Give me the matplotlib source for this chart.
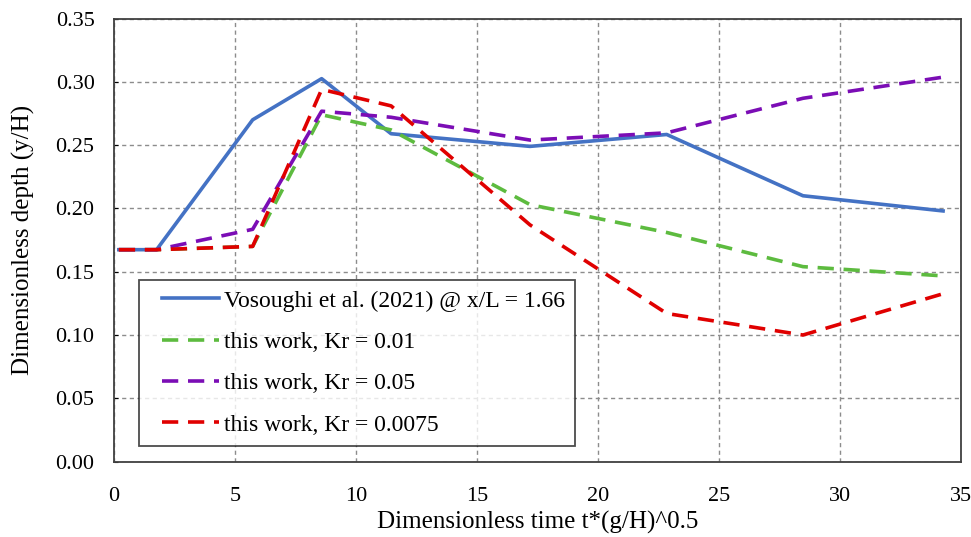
import matplotlib
matplotlib.use("Agg")
import matplotlib.pyplot as plt
from matplotlib.legend_handler import HandlerLine2D

plt.rcParams['font.family'] = ['Liberation Serif', 'DejaVu Serif']

t_blue = [0.2, 1.76, 5.73, 8.58, 11.45, 17.19, 22.84, 28.47, 34.26]
y_blue = [0.1674, 0.1674, 0.270, 0.3025, 0.259, 0.249, 0.2584, 0.210, 0.198]

t_model = [0.2, 1.76, 5.73, 8.58, 11.45, 17.19, 22.84, 28.47, 34.26]
y_green = [0.1674, 0.1674, 0.170, 0.274, 0.262, 0.203, 0.181, 0.154, 0.1467]
y_purple = [0.1674, 0.1674, 0.1835, 0.2768, 0.272, 0.254, 0.2597, 0.287, 0.3037]
y_red = [0.1674, 0.1674, 0.170, 0.294, 0.281, 0.187, 0.117, 0.100, 0.1326]

labels = ["Vosoughi et al. (2021) @ x/L = 1.66",
          "this work, Kr = 0.01",
          "this work, Kr = 0.05",
          "this work, Kr = 0.0075"]

xticks = [0, 5, 10, 15, 20, 25, 30, 35]
yticks = [0.00, 0.05, 0.10, 0.15, 0.20, 0.25, 0.30, 0.35]

fig = plt.figure(figsize=(9.71, 5.37), dpi=100)
ax = fig.add_axes([0.1174, 0.1404, 0.8723, 0.8251])

dash = (0, (4.5, 2.7))
ax.plot(t_blue, y_blue, color='#4472C4', lw=2.6, label=labels[0], zorder=3)
ax.plot(t_model, y_green, color='#5DBB3F', lw=2.6, ls=dash, label=labels[1], zorder=3)
ax.plot(t_model, y_purple, color='#7B0DB5', lw=2.6, ls=dash, label=labels[2], zorder=3)
ax.plot(t_model, y_red, color='#E00000', lw=2.6, ls=dash, label=labels[3], zorder=4)

ax.set_xlim(0, 35)
ax.set_ylim(0, 0.35)
ax.set_xticks(xticks)
ax.set_yticks(yticks)
ax.set_yticklabels([f"{v:.2f}" for v in yticks])
ax.grid(True, color='#8C8C8C', ls=(0, (3, 2.5)), lw=1.0)
ax.set_axisbelow(True)
for s in ax.spines.values():
    s.set_color('#404040')
    s.set_linewidth(1.3)
ax.tick_params(axis='x', length=0, pad=18, labelsize=16)
ax.tick_params(axis='y', length=3, direction='in', pad=14, labelsize=16)

ax.set_xlabel("Dimensionless time t*(g/H)^0.5", fontsize=18, labelpad=4)
ax.set_ylabel("Dimensionless depth (y/H)", fontsize=18, labelpad=15)

hmap = {h: HandlerLine2D(xpad=0.55) for h in ax.get_lines()}
leg = ax.legend(loc='lower left', bbox_to_anchor=(0.0295, 0.036), fontsize=17,
                frameon=True, fancybox=False, edgecolor='#202020',
                handlelength=2.97, handletextpad=0.2, labelspacing=0.84,
                borderpad=0.42, borderaxespad=0, handler_map=hmap)
leg.get_frame().set_linewidth(1.3)

fig.savefig("out.png", dpi=100, facecolor='white')
